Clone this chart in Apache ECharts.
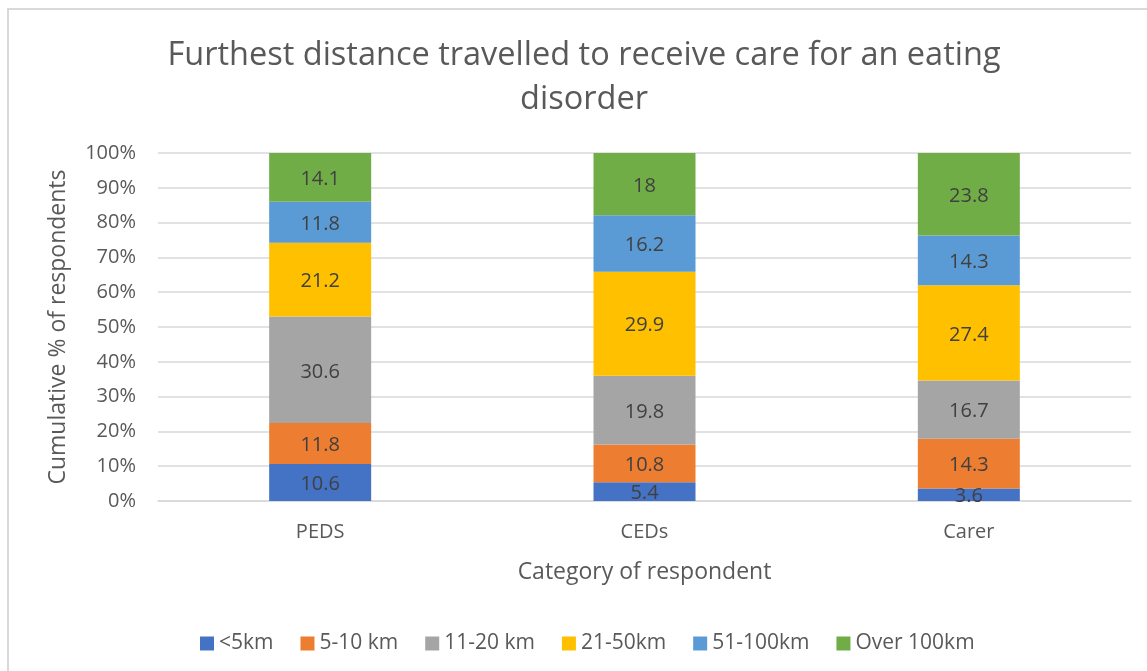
<!DOCTYPE html>
<html>
<head>
<meta charset="utf-8">
<script src="https://cdn.jsdelivr.net/npm/echarts@6/dist/echarts.min.js"></script>
<style>
html,body{margin:0;padding:0;background:#fff;}
#chart{width:1147px;height:671px;}
</style>
</head>
<body>
<div id="chart"></div>
<script>
const categories = ['PEDS', 'CEDs', 'Carer'];
const seriesNames = ['<5km', '5-10 km', '11-20 km', '21-50km', '51-100km', 'Over 100km'];
const lt5 = [10.6, 5.4, 3.6];
const d5to10 = [11.8, 10.8, 14.3];
const d11to20 = [30.6, 19.8, 16.7];
const d21to50 = [21.2, 29.9, 27.4];
const d51to100 = [11.8, 16.2, 14.3];
const over100 = [14.1, 18, 23.8];
const colors = ['#4472C4', '#ED7D31', '#A5A5A5', '#FFC000', '#5B9BD5', '#70AD47'];
const yTicks = [0, 10, 20, 30, 40, 50, 60, 70, 80, 90, 100];

const seriesData = [lt5, d5to10, d11to20, d21to50, d51to100, over100];
const FONT = '"Open Sans", "Noto Sans", sans-serif';

const chart = echarts.init(document.getElementById('chart'), null, {renderer: 'canvas'});
chart.setOption({
  animation: false,
  backgroundColor: '#ffffff',
  color: colors,
  title: {
    text: 'Furthest distance travelled to receive care for an eating\ndisorder',
    left: 584,
    top: 34,
    textAlign: 'center',
    padding: 0,
    textStyle: {
      fontFamily: FONT,
      fontSize: 32.5,
      fontWeight: 'normal',
      color: '#595959',
      lineHeight: 44
    }
  },
  graphic: [{
    type: 'rect',
    shape: {x: 8, y: 9, width: 1200, height: 700},
    style: {fill: 'none', stroke: '#d9d9d9', lineWidth: 2},
    silent: true,
    z: -1
  }],
  legend: {
    left: 195,
    bottom: 12,
    icon: 'rect',
    itemWidth: 14,
    itemHeight: 14,
    itemGap: 27,
    textStyle: {fontFamily: FONT, fontSize: 21, color: '#595959'},
    data: seriesNames
  },
  grid: {left: 158, right: 16, top: 153, bottom: 170, containLabel: false},
  xAxis: {
    type: 'category',
    data: categories,
    name: 'Category of respondent',
    nameLocation: 'middle',
    nameGap: 60,
    nameTextStyle: {fontFamily: FONT, fontSize: 23, color: '#595959'},
    axisLine: {show: true, lineStyle: {color: '#d9d9d9', width: 1.5}},
    axisTick: {show: false},
    axisLabel: {fontFamily: FONT, fontSize: 20, color: '#595959', margin: 21}
  },
  yAxis: {
    type: 'value',
    min: yTicks[0],
    max: yTicks[yTicks.length - 1],
    interval: 10,
    name: 'Cumulative % of respondents',
    nameLocation: 'middle',
    nameGap: 88,
    nameTextStyle: {fontFamily: FONT, fontSize: 23, color: '#595959'},
    axisLine: {show: false},
    axisTick: {show: false},
    splitLine: {lineStyle: {color: '#d9d9d9', width: 1.5}},
    axisLabel: {fontFamily: FONT, fontSize: 20, color: '#595959', margin: 22, formatter: '{value}%'}
  },
  series: seriesNames.map((name, i) => ({
    name: name,
    type: 'bar',
    stack: 'total',
    barWidth: 102,
    data: seriesData[i],
    itemStyle: {color: colors[i]},
    label: {
      show: true,
      position: 'inside',
      offset: [0, 2],
      fontFamily: FONT,
      fontSize: 20,
      color: '#404040'
    }
  }))
});
</script>
</body>
</html>
